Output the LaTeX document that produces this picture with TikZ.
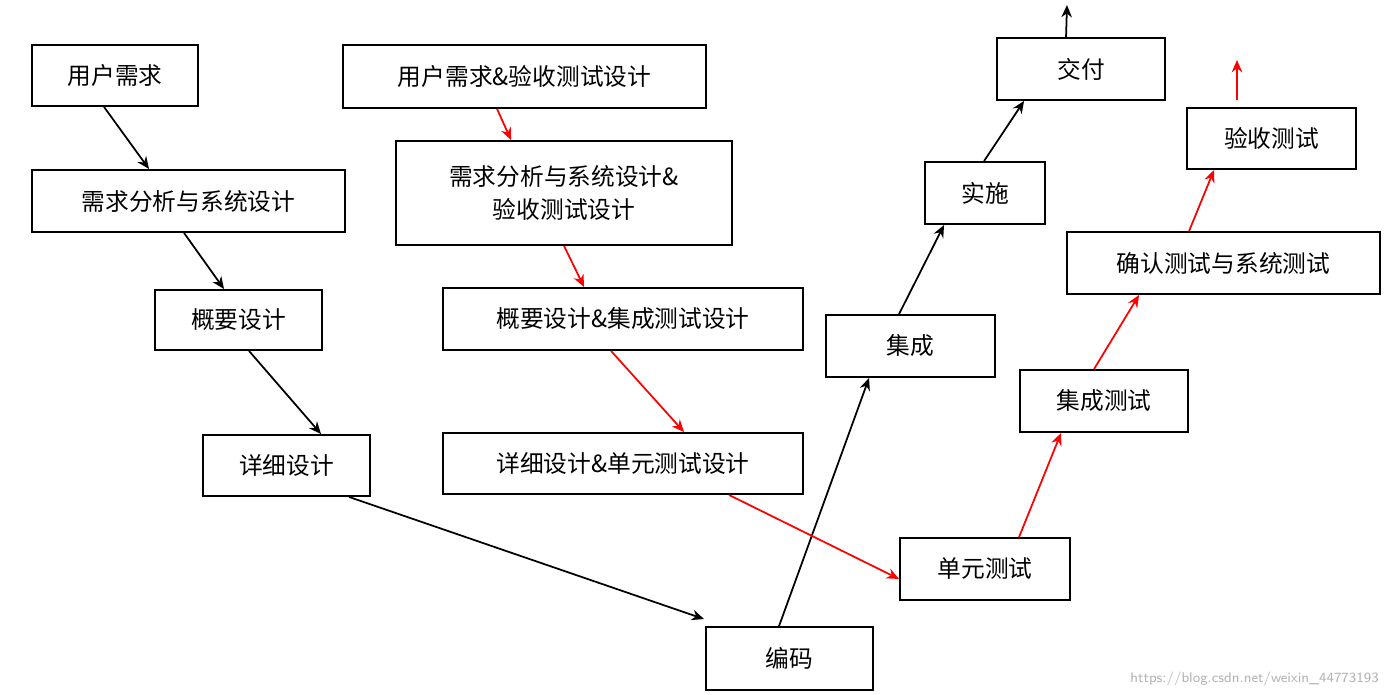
\documentclass[tikz,border=0pt]{standalone}
\usepackage{fontspec}
\setmainfont{Noto Sans CJK SC}
\usetikzlibrary{arrows.meta,calc}
\begin{document}
\begin{tikzpicture}[x=0.02cm,y=-0.02cm,
  box/.style={draw,line width=1.1pt,inner sep=0,align=center,font=\fontsize{13.5}{19}\selectfont},
  blk/.style={line width=1pt,-{Stealth[length=7pt,width=6pt]}},
  red/.style={blk,draw=red}]
\useasboundingbox (0,0) rectangle (1387,694);
\node[box,minimum width=3.32cm,minimum height=1.22cm] (u1) at (115,75.5) {用户需求};
\node[box,minimum width=6.26cm,minimum height=1.24cm] (u2) at (188.5,201) {需求分析与系统设计};
\node[box,minimum width=3.34cm,minimum height=1.2cm] (u3) at (238.5,320) {概要设计};
\node[box,minimum width=3.34cm,minimum height=1.22cm] (u4) at (286.5,465.5) {详细设计};
\node[box,minimum width=3.34cm,minimum height=1.26cm] (bm) at (789.5,658.5) {编码};
\node[box,minimum width=3.38cm,minimum height=1.24cm] (jc) at (910.5,346) {集成};
\node[box,minimum width=2.4cm,minimum height=1.24cm] (ss) at (985,193) {实施};
\node[box,minimum width=3.36cm,minimum height=1.24cm] (jf) at (1081,69) {交付};
\node[box,minimum width=7.26cm,minimum height=1.26cm] (r1) at (524.5,76.5) {用户需求\&验收测试设计};
\node[box,minimum width=6.72cm,minimum height=2.08cm] (r2) at (564,193) {需求分析与系统设计\&\\验收测试设计};
\node[box,minimum width=7.2cm,minimum height=1.24cm] (r3) at (623,319) {概要设计\&集成测试设计};
\node[box,minimum width=7.2cm,minimum height=1.22cm] (r4) at (623,463.5) {详细设计\&单元测试设计};
\node[box,minimum width=3.4cm,minimum height=1.24cm] (t1) at (985,569) {单元测试};
\node[box,minimum width=3.36cm,minimum height=1.24cm] (t2) at (1104,401) {集成测试};
\node[box,minimum width=6.26cm,minimum height=1.24cm] (t3) at (1223.5,263) {确认测试与系统测试};
\node[box,minimum width=3.38cm,minimum height=1.22cm] (t4) at (1271.5,138.5) {验收测试};
\coordinate (top1) at (1067,5);
\coordinate (ra) at (1237,100);
\coordinate (rb) at (1237,60);
\draw[blk] ($(u1.south west)+(73,0)$) -- ($(u2.north west)+(118,0)$);
\draw[blk] ($(u2.south west)+(153,0)$) -- ($(u3.north west)+(70,0)$);
\draw[blk] ($(u3.south west)+(95,0)$) -- ($(u4.north west)+(119,0)$);
\draw[blk] ($(u4.south west)+(147,0)$) -- ($(bm.north west)+(-1,-7)$);
\draw[blk] ($(bm.north west)+(74,0)$) -- ($(jc.south west)+(44,0)$);
\draw[blk] ($(jc.north west)+(74,0)$) -- ($(ss.south west)+(20,0)$);
\draw[blk] ($(ss.north west)+(60,0)$) -- ($(jf.south west)+(28,0)$);
\draw[blk] ($(jf.north west)+(70,0)$) -- (top1);
\draw[red] ($(r1.south west)+(155,0)$) -- ($(r2.north west)+(116,0)$);
\draw[red] ($(r2.south west)+(169,0)$) -- ($(r3.north west)+(142,0)$);
\draw[red] ($(r3.south west)+(169,0)$) -- ($(r4.north west)+(242,0)$);
\draw[red] ($(r4.south west)+(287,0)$) -- ($(t1.south west)+(0,-22)$);
\draw[red] ($(t1.north west)+(120,0)$) -- ($(t2.south west)+(42,0)$);
\draw[red] ($(t2.north west)+(75,0)$) -- ($(t3.south west)+(73,0)$);
\draw[red] ($(t3.north west)+(123,0)$) -- ($(t4.south west)+(28,0)$);
\draw[red] (ra) -- (rb);
\node[text=gray!60,font=\fontsize{8}{10}\selectfont\sffamily,anchor=south east] (wm) at (1385,692) {https://blog.csdn.net/weixin\_44773193};
\end{tikzpicture}
\end{document}
